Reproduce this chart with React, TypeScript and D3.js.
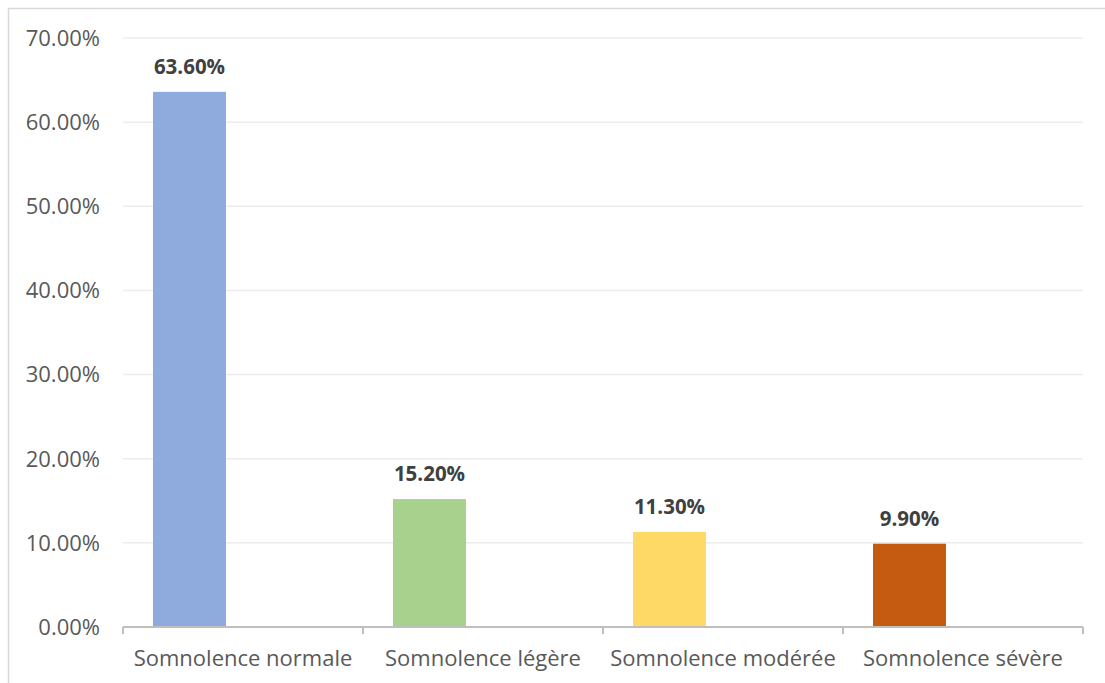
import React from "react";
import * as d3 from "d3";

// Distribution of sleepiness levels (share of respondents)
const categories = [
  "Somnolence normale",
  "Somnolence légère",
  "Somnolence modérée",
  "Somnolence sévère",
];
const values = [0.636, 0.152, 0.113, 0.099];
const barColors = ["#8FAADC", "#A9D18E", "#FFD966", "#C55A11"];
const yTicks = [0, 0.1, 0.2, 0.3, 0.4, 0.5, 0.6, 0.7];

const W = 1105;
const H = 683;
const plot = { left: 123, right: 1083, top: 38, bottom: 627 };
const FONT = "'Open Sans', 'Noto Sans', sans-serif";

export default function App() {
  const x = d3
    .scaleBand<string>()
    .domain(categories)
    .range([plot.left, plot.right])
    .padding(0);
  const y = d3.scaleLinear().domain([0, 0.7]).range([plot.bottom, plot.top]);

  const bw = x.bandwidth();
  const barOffset = bw * 0.125;
  const barWidth = bw * 0.304;
  const pct = d3.format(".2%");

  const tickXs = [...categories.map((c) => x(c) as number), plot.right];

  return (
    <svg
      width={W}
      height={H}
      style={{ position: "fixed", left: 0, top: 0, background: "#fff" }}
    >
      {/* chart frame */}
      <rect
        x={8.5}
        y={8.5}
        width={W + 20}
        height={H + 20}
        fill="#fff"
        stroke="#d9d9d9"
        strokeWidth={1.5}
      />

      {/* horizontal gridlines and value axis labels */}
      {yTicks.map((t) => (
        <g key={t}>
          {t > 0 && (
            <line
              x1={plot.left}
              x2={plot.right}
              y1={y(t)}
              y2={y(t)}
              stroke="#ececec"
              strokeWidth={1.5}
            />
          )}
          <text
            x={100}
            y={y(t)}
            dy="0.36em"
            textAnchor="end"
            fontFamily={FONT}
            fontSize={22}
            fill="#595959"
          >
            {pct(t)}
          </text>
        </g>
      ))}

      {/* bars */}
      {categories.map((c, i) => (
        <rect
          key={c}
          x={(x(c) as number) + barOffset}
          y={y(values[i])}
          width={barWidth}
          height={y(0) - y(values[i])}
          fill={barColors[i]}
        />
      ))}

      {/* data labels */}
      {categories.map((c, i) => (
        <text
          key={c}
          x={(x(c) as number) + barOffset + barWidth / 2}
          y={y(values[i]) - 18}
          textAnchor="middle"
          fontFamily={FONT}
          fontWeight="bold"
          fontSize={20.5}
          fill="#404040"
        >
          {pct(values[i])}
        </text>
      ))}

      {/* category axis */}
      <line
        x1={plot.left}
        x2={plot.right}
        y1={plot.bottom}
        y2={plot.bottom}
        stroke="#bfbfbf"
        strokeWidth={2}
      />
      {tickXs.map((tx, i) => (
        <line
          key={i}
          x1={tx}
          x2={tx}
          y1={plot.bottom}
          y2={plot.bottom + 7}
          stroke="#bfbfbf"
          strokeWidth={2}
        />
      ))}
      {categories.map((c) => (
        <text
          key={c}
          x={(x(c) as number) + bw / 2}
          y={666}
          textAnchor="middle"
          fontFamily={FONT}
          fontSize={22}
          fill="#595959"
        >
          {c}
        </text>
      ))}
    </svg>
  );
}
